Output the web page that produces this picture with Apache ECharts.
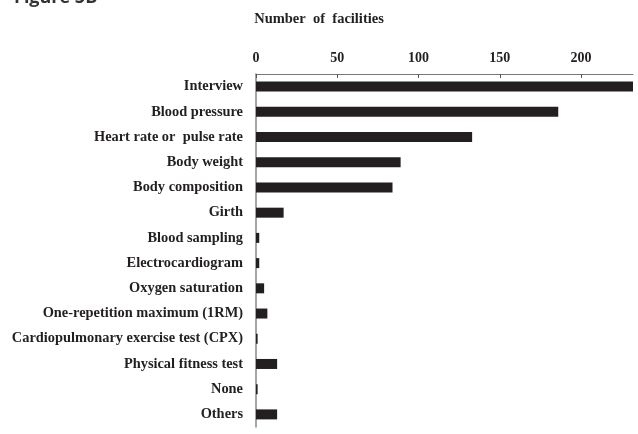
<!DOCTYPE html>
<html>
<head>
<meta charset="utf-8">
<script src="https://cdn.jsdelivr.net/npm/echarts@6/dist/echarts.min.js"></script>
<style>
  html, body { margin: 0; padding: 0; background: #fff; }
  #chart { width: 638px; height: 434px; }
</style>
</head>
<body>
<div id="chart"></div>
<script>
// categories, top to bottom
const categories = [
  'Interview',
  'Blood pressure',
  'Heart rate or  pulse rate',
  'Body weight',
  'Body composition',
  'Girth',
  'Blood sampling',
  'Electrocardiogram',
  'Oxygen saturation',
  'One-repetition maximum (1RM)',
  'Cardiopulmonary exercise test (CPX)',
  'Physical fitness test',
  'None',
  'Others'
];
// number of facilities
const facilities = [232, 186, 133, 89, 84, 17, 2, 2, 5, 7, 1, 13, 1, 13];
const tickValues = [0, 50, 100, 150, 200];

const serif = '"Liberation Serif", "Times New Roman", serif';

const chart = echarts.init(document.getElementById('chart'));
const option = {
  animation: false,
  title: {
    text: 'Number  of  facilities',
    left: 'center',
    top: 7,
    textStyle: { fontFamily: serif, fontWeight: 'bold', fontSize: 14.5, color: '#231f20' }
  },
  graphic: [
    {
      type: 'text',
      left: 14,
      top: -11,
      style: { text: 'Figure 5B', font: 'bold 18px "Open Sans", sans-serif', fill: '#333' }
    }
  ],
  grid: { left: 256, right: 5, top: 74, bottom: 7, containLabel: false },
  xAxis: {
    type: 'value',
    position: 'top',
    min: 0,
    max: 232,
    interval: 50,
    splitLine: { show: false },
    axisLine: { show: true, lineStyle: { color: '#777', width: 1 } },
    axisTick: { show: true, inside: true, length: 4, lineStyle: { color: '#555' }, customValues: tickValues },
    axisLabel: {
      margin: 9,
      customValues: tickValues,
      fontFamily: serif, fontWeight: 'bold', fontSize: 14, color: '#231f20'
    }
  },
  yAxis: {
    type: 'category',
    inverse: true,
    data: categories,
    axisLine: { show: true, lineStyle: { color: '#888', width: 1.5 } },
    axisTick: { show: false },
    axisLabel: { margin: 13, fontFamily: serif, fontWeight: 'bold', fontSize: 14.4, color: '#231f20' }
  },
  series: [
    {
      type: 'bar',
      data: facilities,
      barWidth: 10,
      itemStyle: { color: '#231f20' }
    }
  ]
};
chart.setOption(option);
</script>
</body>
</html>
